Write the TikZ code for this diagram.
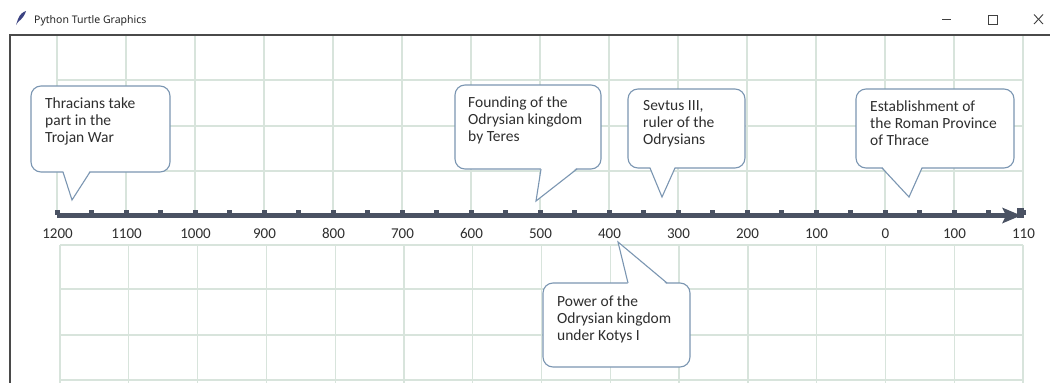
\documentclass[tikz,border=0pt]{standalone}
\usepackage{fontspec}
\setmainfont{Carlito}
\newfontfamily\titlefont{Noto Sans}
\definecolor{gridc}{HTML}{D8E4DC}
\definecolor{axisc}{HTML}{4A5263}
\definecolor{boxc}{HTML}{7B96B2}
\definecolor{txtc}{HTML}{2E2E2E}
\definecolor{framec}{HTML}{4A4A4A}
\tikzset{
  gridline/.style={draw=gridc, line width=1.3pt},
  cbox/.style={draw=boxc, fill=white, line width=1.1pt, rounded corners=10pt},
  cline/.style={draw=boxc, line width=1.1pt, line join=miter},
  ctext/.style={anchor=north west, inner sep=0pt, align=left, text=txtc,
    font=\fontsize{15.5}{17}\selectfont},
  yearlbl/.style={inner sep=0pt, anchor=base, text=txtc, font=\fontsize{15}{17}\selectfont},
  winctl/.style={draw=black!75, line width=0.9pt}
}
\begin{document}
\begin{tikzpicture}[x=1pt,y=-1pt]
\useasboundingbox (0,0) rectangle (1050,383);
\fill[white] (0,0) rectangle (1050,383);
% title bar
\fill[axisc!80!blue] (16,25) -- (18,19) .. controls (20,14) and (23,12) .. (26,11) .. controls (25,15) and (22,19) .. (18,22) -- cycle;
\node[anchor=base west, inner sep=0pt, text=black!85, font=\titlefont\fontsize{10.5}{12}\selectfont] (title) at (34,23) {Python Turtle Graphics};
\draw[winctl] (942,19.5) -- (951,19.5);
\draw[winctl] (988,15) rectangle (997,24);
\draw[winctl] (1034,14.5) -- (1043,24);
\draw[winctl] (1034,24) -- (1043,14.5);
% window frame
\draw[framec, line width=2pt] (10,383) -- (10,35) -- (1050,35);
% upper grid
\foreach \k in {0,...,14} \draw[gridline] ({57+69*\k},36) -- ({57+69*\k},213);
\foreach \yy in {80,126,171} \draw[gridline] (57,\yy) -- (1023,\yy);
% lower grid
\foreach \k in {0,...,14} \draw[gridline] ({60+68.79*\k},245) -- ({60+68.79*\k},383);
\foreach \yy in {245,289,335,380} \draw[gridline] (60,\yy) -- (1023,\yy);
% axis
\draw[axisc, line width=5pt] (57,215.5) -- (1010,215.5);
\foreach \k in {0,...,28} \fill[axisc] ({57+34.5*\k-2.5},210) rectangle ++(5,5);
\fill[axisc] (1002,207.5) -- (1021,215.5) -- (1002,223.5) -- (1006,215.5) -- cycle;
\fill[axisc] (1017,208) rectangle (1024,218);
% year labels
\foreach \t [count=\i from 0] in {1200,1100,1000,900,800,700,600,500,400,300,200,100,0,100,110}
  \node[yearlbl] (y\i) at ({57.5+69*\i},238) {\t};
% callout 1
\draw[cbox] (31,86) rectangle (170,172);
\fill[white] (63,170.4) -- (72,200) -- (90,170.4) -- cycle;
\draw[cline] (63,172) -- (72,200) -- (90,172);
\node[ctext] (c1) at (45,98) {Thracians take\\part in the\\Trojan War};
% callout 2
\draw[cbox] (455,85) rectangle (601,169);
\fill[white] (541,167.4) -- (536,201) -- (577,167.4) -- cycle;
\draw[cline] (541,169) -- (536,201) -- (577,169);
\node[ctext] (c2) at (468,97) {Founding of the\\Odrysian kingdom\\by Teres};
% callout 3
\draw[cbox] (628,89) rectangle (745,168);
\fill[white] (650,166.4) -- (662,197) -- (675,166.4) -- cycle;
\draw[cline] (650,168) -- (662,197) -- (675,168);
\node[ctext] (c3) at (643,100) {Sevtus III,\\ruler of the\\Odrysians};
% callout 4
\draw[cbox] (856,89) rectangle (1014,168);
\fill[white] (882,166.4) -- (909,197) -- (922,166.4) -- cycle;
\draw[cline] (882,168) -- (909,197) -- (922,168);
\node[ctext] (c4) at (870,101) {Establishment of\\the Roman Province\\of Thrace};
% callout 5
\draw[cbox] (543,283) rectangle (690,367);
\fill[white] (628,284.6) -- (618,242) -- (667,284.6) -- cycle;
\draw[cline] (628,283) -- (618,242) -- (667,283);
\node[ctext] (c5) at (557,296) {Power of the\\Odrysian kingdom\\under Kotys I};
\end{tikzpicture}
\end{document}
